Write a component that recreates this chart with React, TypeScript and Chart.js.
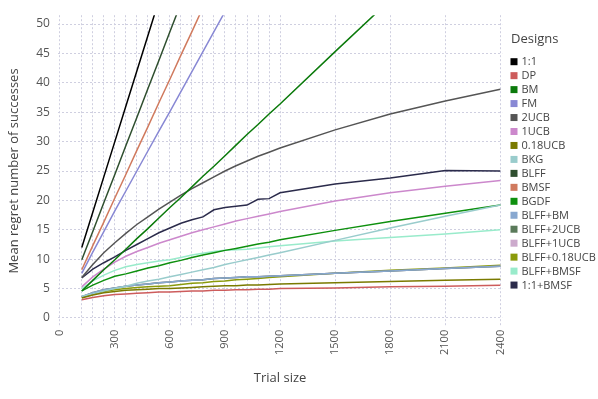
import React, { useEffect, useRef } from "react";
import { Chart, registerables } from "chart.js";

Chart.register(...registerables);

// ---- data ----
const TRIAL_SIZES = [120, 180, 240, 300, 360, 420, 480, 540, 600, 660, 720, 780, 840, 900, 960, 1020, 1080, 1140, 1200, 1500, 1800, 2100, 2400];
const X_GRID = [0, ...TRIAL_SIZES];
const X_LABELS = [0, 300, 600, 900, 1200, 1500, 1800, 2100, 2400];
const Y_TICKS = [0, 5, 10, 15, 20, 25, 30, 35, 40, 45, 50];

const DESIGNS = ["1:1", "DP", "BM", "FM", "2UCB", "1UCB", "0.18UCB", "BKG", "BLFF", "BMSF", "BGDF", "BLFF+BM", "BLFF+2UCB", "BLFF+1UCB", "BLFF+0.18UCB", "BLFF+BMSF", "1:1+BMSF"];
const COLORS = ["#000000", "#CD5C5C", "#0B7A0B", "#8888D4", "#555555", "#CC88CC", "#7A7A00", "#99CCCC", "#2F4F2F", "#D07A5E", "#0E900E", "#88A8D0", "#5A7A5A", "#CCAACC", "#8A9A0A", "#99EBCB", "#2B2B4B"];

const R_1_1 = [12.0, 18.0, 24.0, 30.0, 36.0, 42.0, 48.0, 54.0];
const R_DP = [3.1, 3.5, 3.8, 4.0, 4.1, 4.2, 4.3, 4.4, 4.4, 4.5, 4.6, 4.6, 4.7, 4.7, 4.8, 4.8, 4.9, 4.9, 5.0, 5.1, 5.3, 5.4, 5.55];
const R_BM = [4.6, 6.4, 8.2, 9.9, 11.7, 13.5, 15.2, 17.0, 18.8, 20.5, 22.3, 24.1, 25.8, 27.6, 29.4, 31.2, 32.9, 34.7, 36.4, 45.3, 54.1];
const R_FM = [7.6, 11.2, 14.7, 18.2, 21.6, 25.0, 28.4, 31.8, 35.1, 38.5, 41.9, 45.3, 48.7, 52.1];
const R_2UCB = [6.9, 9.1, 11.1, 12.8, 14.4, 15.9, 17.2, 18.5, 19.7, 20.9, 22.0, 23.0, 24.0, 25.0, 25.9, 26.7, 27.5, 28.2, 28.9, 32.0, 34.7, 36.9, 38.9];
const R_1UCB = [5.3, 7.0, 8.3, 9.5, 10.5, 11.3, 12.0, 12.7, 13.3, 13.9, 14.5, 15.0, 15.5, 16.0, 16.5, 16.9, 17.3, 17.7, 18.1, 19.9, 21.3, 22.4, 23.4];
const R_018UCB = [3.4, 3.9, 4.3, 4.5, 4.7, 4.8, 4.9, 5.0, 5.0, 5.1, 5.2, 5.3, 5.4, 5.5, 5.5, 5.6, 5.6, 5.7, 5.8, 6.0, 6.2, 6.4, 6.6];
const R_BKG = [3.7, 4.1, 4.6, 5.0, 5.4, 5.9, 6.3, 6.6, 7.0, 7.4, 7.8, 8.2, 8.6, 9.1, 9.5, 9.9, 10.3, 10.7, 11.1, 13.2, 15.3, 17.3, 19.2];
const R_BLFF = [9.9, 14.7, 19.6, 24.4, 29.3, 34.1, 39.0, 43.8, 48.7, 53.5];
const R_BMSF = [8.2, 12.3, 16.3, 20.4, 24.4, 28.5, 32.5, 36.6, 40.6, 44.7, 48.7, 52.8];
const R_BGDF = [4.6, 5.6, 6.4, 7.1, 7.5, 8.0, 8.5, 8.9, 9.4, 9.8, 10.3, 10.7, 11.1, 11.5, 11.8, 12.2, 12.6, 12.9, 13.3, 14.9, 16.4, 17.8, 19.2];
const R_BLFF_BM = [3.6, 4.3, 4.8, 5.1, 5.4, 5.6, 5.8, 6.0, 6.1, 6.3, 6.4, 6.5, 6.7, 6.8, 6.9, 7.0, 7.0, 7.1, 7.2, 7.6, 8.0, 8.4, 8.8];
const R_BLFF_2UCB = [3.6, 4.3, 4.8, 5.1, 5.4, 5.6, 5.8, 6.0, 6.1, 6.3, 6.4, 6.5, 6.7, 6.8, 6.9, 7.0, 7.0, 7.1, 7.2, 7.6, 8.0, 8.4, 8.8];
const R_BLFF_1UCB = [3.6, 4.3, 4.8, 5.1, 5.4, 5.6, 5.8, 6.0, 6.1, 6.3, 6.4, 6.5, 6.7, 6.8, 6.9, 7.0, 7.0, 7.1, 7.2, 7.6, 8.0, 8.4, 8.8];
const R_BLFF_018UCB = [3.5, 4.1, 4.5, 4.8, 5.0, 5.2, 5.3, 5.4, 5.5, 5.7, 5.9, 6.0, 6.2, 6.3, 6.5, 6.6, 6.7, 6.9, 7.0, 7.6, 8.1, 8.5, 8.95];
const R_BLFF_BMSF = [5.0, 6.3, 7.3, 8.1, 8.7, 9.1, 9.4, 9.7, 9.9, 10.3, 10.7, 11.0, 11.3, 11.5, 11.6, 11.7, 11.9, 12.1, 12.3, 13.1, 13.7, 14.3, 15.0];
const R_1_1_BMSF = [6.8, 8.3, 9.4, 10.4, 11.5, 12.5, 13.5, 14.5, 15.3, 16.1, 16.7, 17.2, 18.4, 18.8, 19.0, 19.2, 20.2, 20.3, 21.3, 22.8, 23.8, 25.1, 25.0];

const SERIES = [R_1_1, R_DP, R_BM, R_FM, R_2UCB, R_1UCB, R_018UCB, R_BKG, R_BLFF, R_BMSF, R_BGDF, R_BLFF_BM, R_BLFF_2UCB, R_BLFF_1UCB, R_BLFF_018UCB, R_BLFF_BMSF, R_1_1_BMSF];

const FONT = "'Open Sans', 'DejaVu Sans', sans-serif";

const legendPlugin = {
  id: "customLegend",
  afterDraw(chart: any) {
    const ctx = chart.ctx;
    ctx.save();
    ctx.fillStyle = "#444";
    ctx.textBaseline = "middle";
    ctx.textAlign = "left";
    ctx.font = `13px ${FONT}`;
    ctx.fillText("Designs", 511, 39.5);
    ctx.font = `11px ${FONT}`;
    chart.data.datasets.forEach((ds: any, i: number) => {
      const y = 61.7 + i * 13.96;
      ctx.fillStyle = ds.borderColor;
      ctx.fillRect(510.5, y - 3.5, 7, 7);
      ctx.fillStyle = "#444";
      ctx.fillText(ds.label, 521.5, y + 0.5);
    });
    ctx.restore();
  },
};

export default function App() {
  const ref = useRef<HTMLCanvasElement>(null);
  useEffect(() => {
    if (!ref.current) return;
    const datasets = DESIGNS.map((name, i) => ({
      label: name,
      data: SERIES[i].map((v, j) => ({ x: TRIAL_SIZES[j], y: v })),
      borderColor: COLORS[i],
      backgroundColor: COLORS[i],
      borderWidth: 1.5,
      pointRadius: 0,
      tension: 0,
      fill: false,
    }));
    const chart = new Chart(ref.current, {
      type: "line",
      data: { datasets },
      options: {
        animation: false,
        responsive: false,
        layout: { padding: { left: 0, top: 4.9, right: 95.8, bottom: 0 } },
        plugins: { legend: { display: false }, tooltip: { enabled: false } },
        scales: {
          x: {
            type: "linear",
            min: -10,
            max: 2410,
            afterBuildTicks: (scale: any) => {
              scale.ticks = X_GRID.map((v) => ({ value: v }));
            },
            afterFit: (scale: any) => {
              scale.height = 72.2;
            },
            ticks: {
              autoSkip: false,
              minRotation: 90,
              maxRotation: 90,
              padding: 3,
              color: "#555",
              font: { family: FONT, size: 11 },
              callback: (v: any) => (X_LABELS.includes(Number(v)) ? String(v) : ""),
            },
            grid: { color: "#CFCFE0", lineWidth: 1, drawTicks: false },
            border: { display: false, dash: [2, 2] },
            title: {
              display: true,
              text: "Trial size",
              color: "#444",
              font: { family: FONT, size: 13 },
              padding: { top: 0, bottom: 12.6 },
            },
          },
          y: {
            type: "linear",
            min: -1.5,
            max: 51.5,
            afterBuildTicks: (scale: any) => {
              scale.ticks = Y_TICKS.map((v) => ({ value: v }));
            },
            afterFit: (scale: any) => {
              scale.width = 57.9;
            },
            ticks: {
              padding: 8,
              color: "#555",
              font: { family: FONT, size: 12 },
              callback: (v: any) => String(v),
            },
            grid: { color: "#CFCFE0", lineWidth: 1, drawTicks: false },
            border: { display: false, dash: [2, 2] },
            title: {
              display: true,
              text: "Mean regret number of successes",
              color: "#444",
              font: { family: FONT, size: 13 },
              padding: { top: 6.7, bottom: 0 },
            },
          },
        },
      },
      plugins: [legendPlugin],
    });
    return () => chart.destroy();
  }, []);
  return (
    <div style={{ position: "fixed", left: 0, top: 0, width: 598, height: 399 }}>
      <canvas ref={ref} width={598} height={399} style={{ display: "block" }} />
    </div>
  );
}
